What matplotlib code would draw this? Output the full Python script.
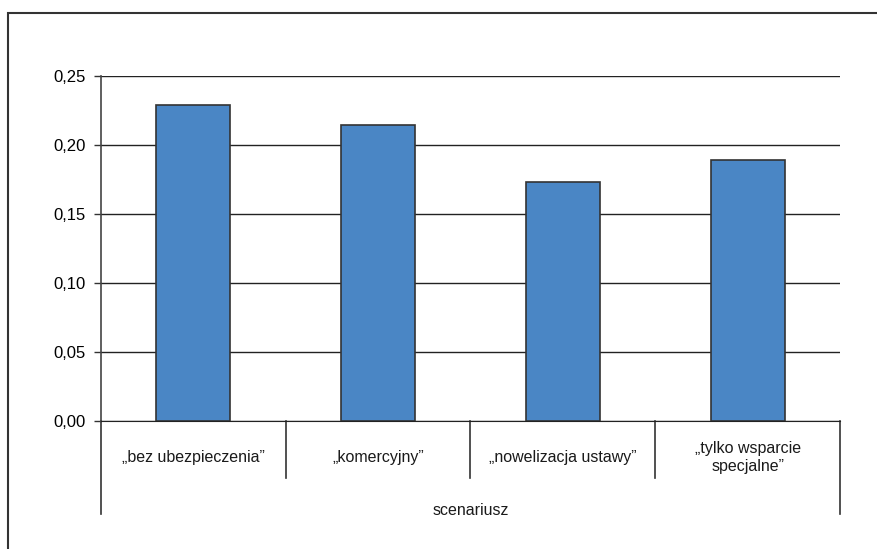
import matplotlib.pyplot as plt
from matplotlib.patches import Rectangle
import matplotlib.transforms as mtransforms

# data
categories = ['\u201ebez ubezpieczenia\u201d', '\u201ekomercyjny\u201d',
              '\u201enowelizacja ustawy\u201d', '\u201etylko wsparcie\nspecjalne\u201d']
values = [0.229, 0.2145, 0.1735, 0.189]
yticks = [0.0, 0.05, 0.10, 0.15, 0.20, 0.25]
ytick_labels = ['0,00', '0,05', '0,10', '0,15', '0,20', '0,25']
axis_title = 'scenariusz'

plt.rcParams['font.family'] = ['Liberation Sans', 'DejaVu Sans']

fig = plt.figure(figsize=(8.78, 5.49), dpi=100)
ax = fig.add_axes([101 / 878, 1 - 421 / 549, (840 - 101) / 878, (421 - 76) / 549])

# outer frame (runs off the right and bottom edge)
fig.patches.append(Rectangle((8 / 878, -0.05), 1.0, 1 - 13 / 549 + 0.05,
                             transform=fig.transFigure, fill=False,
                             edgecolor='#333333', linewidth=1.5))

x = range(len(categories))
ax.bar(x, values, width=0.4, color='#4A86C5', edgecolor='#333333', linewidth=1.2, zorder=3)

ax.set_xlim(-0.5, 3.5)
ax.set_ylim(0, 0.25)
ax.set_yticks(yticks)
ax.set_yticklabels(ytick_labels, fontsize=12)
ax.set_xticks([])
ax.yaxis.grid(True, color='#222222', linewidth=1.0, zorder=0)
ax.set_axisbelow(True)
ax.tick_params(axis='y', length=5, width=1, color='#333333', pad=6)

for s in ['top', 'right']:
    ax.spines[s].set_visible(False)
ax.spines['left'].set_color('#444444')
ax.spines['bottom'].set_color('#222222')
ax.spines['left'].set_linewidth(1.2)

# category separators below the axis
trans = mtransforms.blended_transform_factory(ax.transData, ax.transAxes)
for sx in [0.5, 1.5, 2.5]:
    ax.plot([sx, sx], [0, -0.165], color='#333333', linewidth=1.2, transform=trans, clip_on=False)
for sx in [-0.5, 3.5]:
    ax.plot([sx, sx], [0, -0.27], color='#333333', linewidth=1.2, transform=trans, clip_on=False)

for i, lab in enumerate(categories):
    ax.text(i, -0.105, lab, transform=trans, ha='center', va='center',
            fontsize=11.5, linespacing=1.25, color='#1a1a1a')

ax.text(1.5, -0.258, axis_title, transform=trans, ha='center', va='center',
        fontsize=11.5, color='#1a1a1a')

fig.savefig('out.png', dpi=100)
